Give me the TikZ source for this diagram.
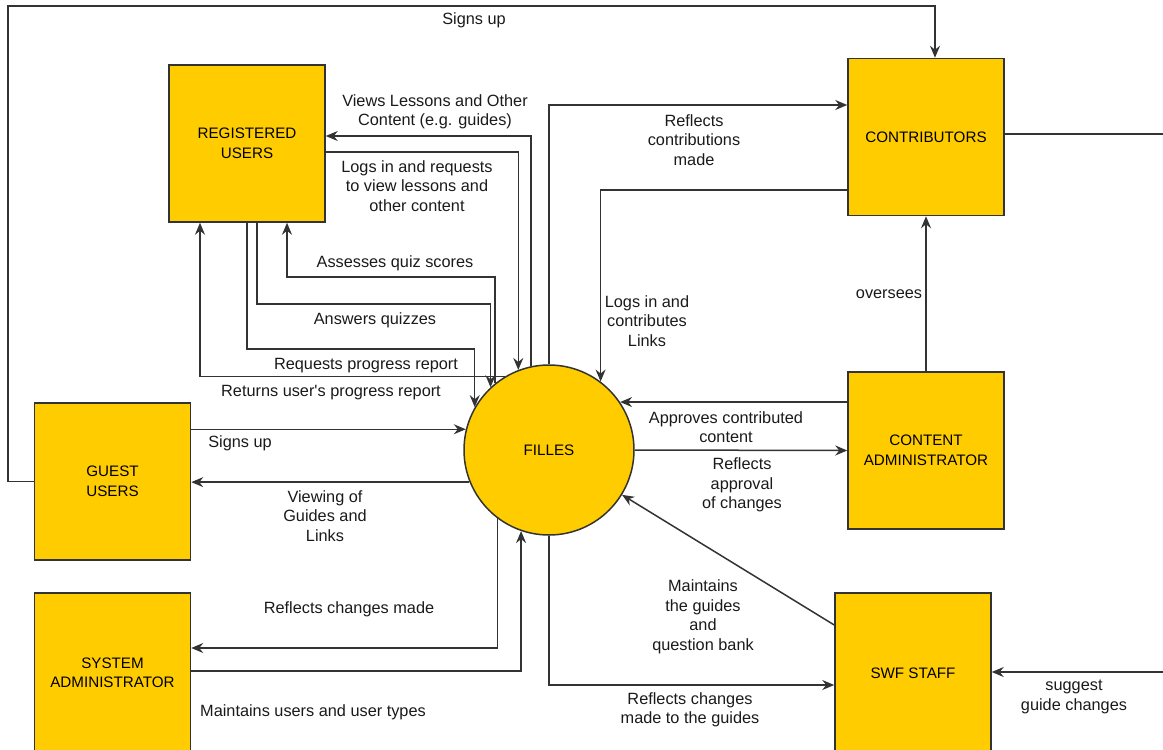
\documentclass[tikz,border=0pt]{standalone}
\usepackage{fontspec}
\setmainfont{Liberation Sans}
\usetikzlibrary{arrows.meta, positioning, calc}

\definecolor{boxy}{HTML}{FFCC00}
\definecolor{linec}{HTML}{333333}
\definecolor{txtc}{HTML}{1A1A1A}

\begin{document}
\begin{tikzpicture}[
    x=1pt, y=-1pt,
    >={Stealth[length=12pt, width=10pt, inset=4pt]},
    ent/.style={rectangle, draw=linec, line width=1.5pt, fill=boxy,
                minimum width=156pt, minimum height=157pt, inner sep=0pt,
                align=center, font=\fontsize{15.2}{19.5}\selectfont, text=black},
    proc/.style={circle, draw=linec, line width=1.5pt, fill=boxy,
                minimum size=170pt, inner sep=0pt, align=center,
                font=\fontsize{15.2}{19.5}\selectfont, text=black},
    arrow/.style={->, line width=1.5pt, draw=linec},
    lbl/.style={font=\fontsize{16.3}{19.5}\selectfont, text=txtc, align=center, inner sep=0pt}
]
\useasboundingbox (0,0) rectangle (1163,750);

% Entities
\node[ent] (reg) at (247,143.5) {REGISTERED\\USERS};
\node[ent] (gst) at (112.5,481.5) {GUEST\\USERS};
\node[ent, minimum height=160pt] (sys) at (112.5,673) {SYSTEM\\ADMINISTRATOR};
\node[ent] (con) at (926,137) {CONTRIBUTORS};
\node[ent] (cad) at (926,450.5) {CONTENT\\ADMINISTRATOR};
\node[ent, minimum height=160pt] (swf) at (913,673) {SWF STAFF};

% Process
\node[proc] (fil) at (549,450) {FILLES};

% Off-page ends
\coordinate (offc) at (1170,134);
\coordinate (offs) at (1170,672);

% Guest users
\draw[arrow] (gst.west) -| (8,6) -| (con.north -| 935,0);
\draw[arrow] (gst.east |- fil.166) -- (fil.166);
\draw[arrow] (fil.202) -- (gst.east |- fil.202);

% Registered users
\draw[arrow] (fil.102) |- (reg.east |- 0,136);
\draw[arrow] (reg.east |- 0,152) -| (fil.111);
\draw[arrow] (fil.129) |- (287,277) -- (reg.south -| 287,0);
\draw[arrow] (reg.south -| 257,0) |- (fil.133 |- 0,304) -- (fil.133);
\draw[arrow] (reg.south) |- (fil.150 |- 0,349) -- (fil.150);
\draw[arrow] (fil.121) -| (reg.south -| 200,0);

% System administrator
\draw[arrow] (fil.233) |- (sys.east |- 0,648);
\draw[arrow] (sys.east |- 0,671) -| (fil.251);

% Contributors
\draw[arrow] (fil.north) |- (con.west |- 0,105);
\draw[arrow] (con.west |- 0,190) -| (fil.53);
\draw[line width=1.5pt, draw=linec] (con.east |- offc) -- (offc);

% Content administrator
\draw[arrow] (cad.north) -- (con.south);
\draw[arrow] (cad.west |- fil.34) -- (fil.34);
\draw[arrow] (fil.east) -- (cad.west);

% SWF staff
\draw[arrow] (swf.west |- 0,625) -- (fil);
\draw[arrow] (fil.south) |- (swf.west |- 0,685);
\draw[arrow] (offs) -- (swf.east |- offs);

% Labels
\node[lbl] (lSignTop) at (474,20) {Signs up};
\node[lbl] (lViews) at (435,112) {Views Lessons and Other\\Content (e.g. guides)};
\node[lbl] (lLogs) at (417,186) {Logs in and requests\\to view lessons and\\other content};
\node[lbl] (lAssess) at (395,263) {Assesses quiz scores};
\node[lbl] (lAnswer) at (375,320) {Answers quizzes};
\node[lbl] (lReq) at (366,366) {Requests progress report};
\node[lbl] (lRet) at (331,393) {Returns user\textquotesingle s progress report};
\node[lbl] (lSignGst) at (240,443) {Signs up};
\node[lbl] (lView) at (325,516) {Viewing of\\Guides and\\Links};
\node[lbl] (lRefSys) at (349,609) {Reflects changes made};
\node[lbl] (lMaintSys) at (313,712) {Maintains users and user types};
\node[lbl] (lRefCon) at (694,140) {Reflects\\contributions\\made};
\node[lbl] (lLogCon) at (647,321) {Logs in and\\contributes\\Links};
\node[lbl] (lOver) at (889,294) {oversees};
\node[lbl] (lAppr) at (726,427) {Approves contributed\\content};
\node[lbl] (lRefCad) at (742,485) {Reflects\\approval\\of changes};
\node[lbl] (lMaintSwf) at (703,617) {Maintains\\the guides\\and\\question bank};
\node[lbl] (lRefSwf) at (690,710) {Reflects changes\\made to the guides};
\node[lbl] (lSugg) at (1074,697) {suggest\\guide changes};

\end{tikzpicture}
\end{document}
